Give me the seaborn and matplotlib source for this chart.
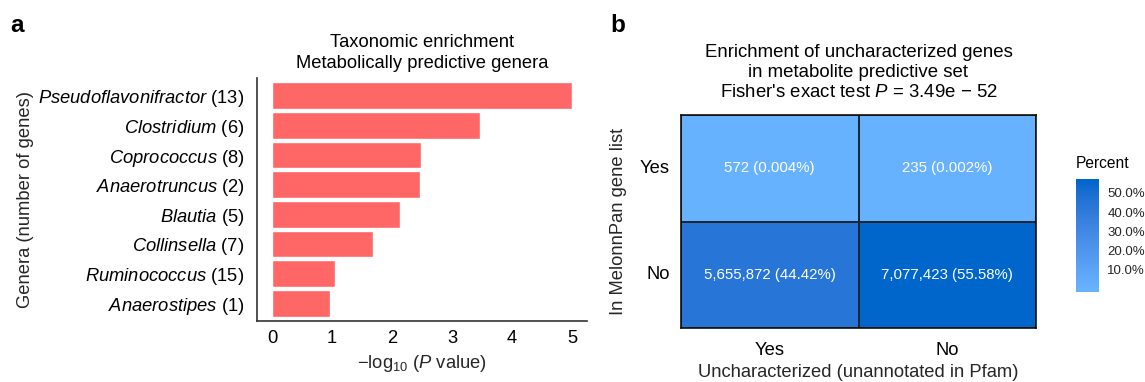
import numpy as np
import pandas as pd
import matplotlib
matplotlib.use("Agg")
import matplotlib.pyplot as plt
from matplotlib.colors import LinearSegmentedColormap, ListedColormap, Normalize, to_rgb
from matplotlib.cm import ScalarMappable
import seaborn as sns

# ---- Panel a: taxonomic enrichment ----
genera = ["Pseudoflavonifractor", "Clostridium", "Coprococcus", "Anaerotruncus",
          "Blautia", "Collinsella", "Ruminococcus", "Anaerostipes"]
gene_counts = [13, 6, 8, 2, 5, 7, 15, 1]
neg_log10_p = [5.00, 3.47, 2.49, 2.46, 2.13, 1.69, 1.05, 0.96]
x_ticks_a = [0, 1, 2, 3, 4, 5]

# ---- Panel b: uncharacterized gene enrichment ----
row_labels = ["Yes", "No"]      # in MelonnPan gene list
col_labels = ["Yes", "No"]      # uncharacterized (unannotated in Pfam)
gene_numbers = [[572, 235], [5655872, 7077423]]
percents = [[0.004, 0.002], [44.42, 55.58]]
cbar_ticks = [10, 20, 30, 40, 50]

sns.set_theme(style="white")
plt.rcParams["font.family"] = ["Liberation Sans", "DejaVu Sans"]
plt.rcParams["mathtext.fontset"] = "custom"
plt.rcParams["mathtext.rm"] = "Liberation Sans"
plt.rcParams["mathtext.it"] = "Liberation Sans:italic"
plt.rcParams["mathtext.bf"] = "Liberation Sans:bold"
plt.rcParams["text.color"] = "black"

W, H = 1145, 382
fig = plt.figure(figsize=(W / 100, H / 100), dpi=100)


def box(l, t, r, b):
    return [l / W, 1 - b / H, (r - l) / W, (b - t) / H]


# --- gradient interpolated in CIE Lab space ---
def _srgb_to_lab(c):
    c = np.asarray(c, float)
    lin = np.where(c <= 0.04045, c / 12.92, ((c + 0.055) / 1.055) ** 2.4)
    M = np.array([[0.4124, 0.3576, 0.1805],
                  [0.2126, 0.7152, 0.0722],
                  [0.0193, 0.1192, 0.9505]])
    xyz = M @ lin / np.array([0.95047, 1.0, 1.08883])
    f = np.where(xyz > 0.008856, np.cbrt(xyz), 7.787 * xyz + 16 / 116)
    return np.array([116 * f[1] - 16, 500 * (f[0] - f[1]), 200 * (f[1] - f[2])])


def _lab_to_srgb(lab):
    L, a, b = lab
    fy = (L + 16) / 116
    fx = fy + a / 500
    fz = fy - b / 200
    f = np.array([fx, fy, fz])
    xyz = np.where(f ** 3 > 0.008856, f ** 3, (f - 16 / 116) / 7.787)
    xyz = xyz * np.array([0.95047, 1.0, 1.08883])
    Minv = np.array([[3.2406, -1.5372, -0.4986],
                     [-0.9689, 1.8758, 0.0415],
                     [0.0557, -0.2040, 1.0570]])
    lin = Minv @ xyz
    c = np.where(lin <= 0.0031308, 12.92 * lin, 1.055 * np.clip(lin, 0, None) ** (1 / 2.4) - 0.055)
    return np.clip(c, 0, 1)


def lab_gradient(low, high, n=256):
    a, b = _srgb_to_lab(to_rgb(low)), _srgb_to_lab(to_rgb(high))
    return [_lab_to_srgb(a + (b - a) * t) for t in np.linspace(0, 1, n)]


# ---------------- Panel a ----------------
ax = fig.add_axes(box(257, 78, 587, 321))
df_a = pd.DataFrame({
    "label": [f"$\\mathit{{{g}}}$ ({n})" for g, n in zip(genera, gene_counts)],
    "value": neg_log10_p,
})
sns.barplot(data=df_a, y="label", x="value", orient="h", color="#FF6666",
            saturation=1, width=0.9, ax=ax)
ax.set_xlim(-0.25, 5.25)
ax.set_ylim(len(genera) - 0.4, -0.6)
ax.set_xticks(x_ticks_a)
ax.tick_params(axis="both", length=0, labelsize=13.2, colors="black")
ax.tick_params(axis="x", pad=6.5)
ax.tick_params(axis="y", pad=9)
for s in ["top", "right"]:
    ax.spines[s].set_visible(False)
for s in ["left", "bottom"]:
    ax.spines[s].set_color("#333333")
    ax.spines[s].set_linewidth(1.2)
ax.set_xlabel("−log$_{10}$ ($\\mathit{P}$ value)", fontsize=13.2, labelpad=4)
ax.set_ylabel("Genera (number of genes)", fontsize=13.2, labelpad=3)
ax.set_title("Taxonomic enrichment\nMetabolically predictive genera",
             fontsize=13.2, pad=7, linespacing=1.3)
fig.text(10 / W, 1 - 31.5 / H, "a", fontsize=17.5, fontweight="bold", va="baseline")

# ---------------- Panel b ----------------
low_c, high_c = "#67B2FF", "#0066CC"
vmin, vmax = 0.002, 55.58
grad = lab_gradient(low_c, high_c)
cell_cmap = ListedColormap(grad, name="pct")

pct = pd.DataFrame(percents, index=row_labels, columns=col_labels)
annot = np.array([[f"{c:,} ({p:.3f}%)" if p < 1 else f"{c:,} ({p:.2f}%)"
                   for c, p in zip(cr, pr)]
                  for cr, pr in zip(gene_numbers, percents)])

axb = fig.add_axes(box(681, 115, 1036, 328))
sns.heatmap(pct, annot=annot, fmt="", cmap=cell_cmap, vmin=vmin, vmax=vmax,
            cbar=False, linewidths=1.3, linecolor="#1b2633",
            annot_kws={"color": "white", "fontsize": 10.8}, ax=axb)
for s in axb.spines.values():
    s.set_visible(True)
    s.set_color("#111111")
    s.set_linewidth(1.2)
axb.tick_params(axis="both", length=0, labelsize=13.2, colors="black")
axb.tick_params(axis="x", pad=10)
axb.tick_params(axis="y", pad=8, rotation=0)
axb.set_xlabel("Uncharacterized (unannotated in Pfam)", fontsize=13.2, labelpad=3.5)
axb.set_ylabel("In MelonnPan gene list", fontsize=13.2, labelpad=9)
axb.set_title("Enrichment of uncharacterized genes\nin metabolite predictive set\n"
              "Fisher's exact test $\\mathit{P}$ = 3.49e − 52",
              fontsize=13.4, pad=13.3, linespacing=1.2)
fig.text(610 / W, 1 - 31.5 / H, "b", fontsize=17.5, fontweight="bold", va="baseline")

# Colour bar: the data limits sit half a bin inside the bar ends
lo, hi = -1.6, 57.2
p0 = (vmin - lo) / (hi - lo)
p1 = (vmax - lo) / (hi - lo)
nodes = [(0.0, grad[0])] + [(p0 + (p1 - p0) * t, c)
                            for t, c in zip(np.linspace(0, 1, len(grad)), grad)] + [(1.0, grad[-1])]
bar_cmap = LinearSegmentedColormap.from_list("pct_bar", nodes)
cax = fig.add_axes(box(1076, 179, 1099, 292))
cb = fig.colorbar(ScalarMappable(norm=Normalize(lo, hi), cmap=bar_cmap), cax=cax)
cb.outline.set_visible(False)
cb.set_ticks(cbar_ticks)
cb.set_ticklabels([f"{t:.1f}%" for t in cbar_ticks])
cax.tick_params(axis="y", which="both", direction="in", length=3.2, width=0.8,
                color="white", left=True, right=True, labelsize=9.5, pad=6)
fig.text(1076 / W, 1 - 163 / H, "Percent", fontsize=11.2, va="center", ha="left")

fig.savefig("out.png", dpi=100)
